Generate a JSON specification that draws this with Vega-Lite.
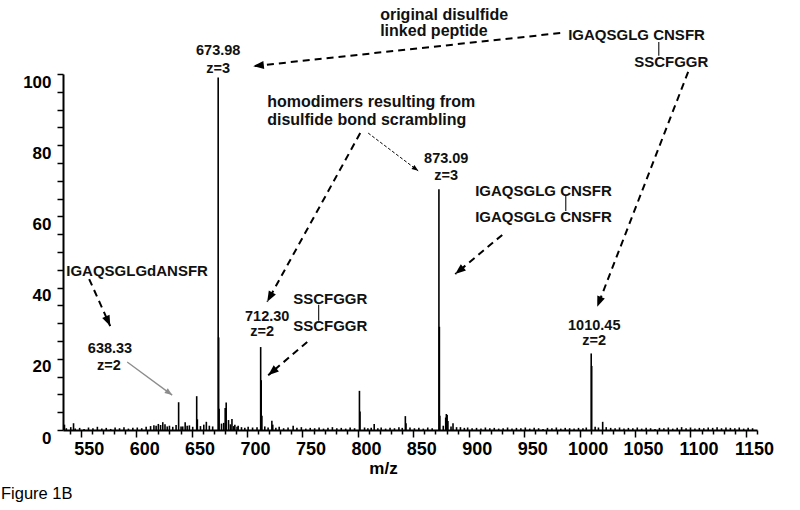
{
  "$schema": "https://vega.github.io/schema/vega-lite/v6.json",
  "width": 694,
  "height": 356,
  "autosize": {"type": "none"},
  "padding": {"left": 63, "top": 74, "right": 43, "bottom": 80},
  "background": "white",
  "config": {"view": {"stroke": null}, "font": "Liberation Sans", "axis": {"labelOverlap": false}},
  "title": {"text": "Figure 1B", "orient": "bottom", "anchor": "start", "frame": "group", "dx": -62, "offset": 10, "fontSize": 16.5, "fontWeight": "normal", "font": "Liberation Sans", "color": "black"},
  "datasets": {
    "spectrum": [
      {"mz": 535.3, "intensity": 1.5}, {"mz": 543.5, "intensity": 1.9},
      {"mz": 618, "intensity": 1.2}, {"mz": 620, "intensity": 1.7}, {"mz": 622, "intensity": 1.4}, {"mz": 624, "intensity": 2.2}, {"mz": 626, "intensity": 1.6}, {"mz": 628, "intensity": 1.0},
      {"mz": 638.3, "intensity": 7.8}, {"mz": 640.5, "intensity": 1.0}, {"mz": 644.2, "intensity": 2.2}, {"mz": 646, "intensity": 1.2},
      {"mz": 654.6, "intensity": 9.5}, {"mz": 655.2, "intensity": 3.0}, {"mz": 663.3, "intensity": 2.3},
      {"mz": 673.98, "intensity": 99}, {"mz": 674.4, "intensity": 26}, {"mz": 674.8, "intensity": 6},
      {"mz": 680.3, "intensity": 6.2}, {"mz": 681.2, "intensity": 7.7}, {"mz": 683.3, "intensity": 2.8}, {"mz": 686.4, "intensity": 3.1}, {"mz": 689, "intensity": 1.5}, {"mz": 692, "intensity": 1.2},
      {"mz": 712.3, "intensity": 23.3}, {"mz": 712.8, "intensity": 14}, {"mz": 713.4, "intensity": 4},
      {"mz": 722.4, "intensity": 2.6}, {"mz": 723.2, "intensity": 1.5}, {"mz": 741.6, "intensity": 1.2},
      {"mz": 801.4, "intensity": 11}, {"mz": 801.9, "intensity": 5.2}, {"mz": 814.7, "intensity": 1.7},
      {"mz": 842.8, "intensity": 3.9}, {"mz": 843.4, "intensity": 1.9},
      {"mz": 873.09, "intensity": 67.6}, {"mz": 873.5, "intensity": 29}, {"mz": 873.9, "intensity": 4},
      {"mz": 879.2, "intensity": 3.5}, {"mz": 879.8, "intensity": 4.5}, {"mz": 880.5, "intensity": 4.2}, {"mz": 881.2, "intensity": 2.5},
      {"mz": 885.8, "intensity": 1.9}, {"mz": 892.5, "intensity": 0.8},
      {"mz": 1010.45, "intensity": 21.5}, {"mz": 1010.9, "intensity": 18}, {"mz": 1020.8, "intensity": 2.3}, {"mz": 1024, "intensity": 0.8},
      {"mz": 537, "intensity": 0.5}, {"mz": 541, "intensity": 0.8}, {"mz": 545, "intensity": 0.4}, {"mz": 549, "intensity": 0.6}, {"mz": 553, "intensity": 0.3}, {"mz": 557, "intensity": 0.7}, {"mz": 561, "intensity": 0.5}, {"mz": 565, "intensity": 0.9}, {"mz": 569, "intensity": 0.4}, {"mz": 573, "intensity": 0.6}, {"mz": 577, "intensity": 0.3}, {"mz": 581, "intensity": 0.7}, {"mz": 585, "intensity": 0.5}, {"mz": 589, "intensity": 0.8}, {"mz": 593, "intensity": 0.4}, {"mz": 597, "intensity": 0.6}, {"mz": 601, "intensity": 0.7}, {"mz": 605, "intensity": 0.5}, {"mz": 609, "intensity": 0.9}, {"mz": 613, "intensity": 1.1}, {"mz": 616, "intensity": 1.3}, {"mz": 630, "intensity": 1.2}, {"mz": 633, "intensity": 0.9}, {"mz": 636, "intensity": 1.4}, {"mz": 642, "intensity": 1.0}, {"mz": 648, "intensity": 1.3}, {"mz": 651, "intensity": 0.9}, {"mz": 658, "intensity": 1.1}, {"mz": 661, "intensity": 1.5}, {"mz": 666, "intensity": 1.2}, {"mz": 669, "intensity": 1.0}, {"mz": 677, "intensity": 1.8}, {"mz": 679, "intensity": 2.0}, {"mz": 685, "intensity": 1.6}, {"mz": 688, "intensity": 1.1}, {"mz": 691, "intensity": 0.9}, {"mz": 695, "intensity": 0.8}, {"mz": 698, "intensity": 0.6}, {"mz": 701, "intensity": 0.9}, {"mz": 705, "intensity": 0.7}, {"mz": 709, "intensity": 0.8}, {"mz": 716, "intensity": 1.0}, {"mz": 719, "intensity": 0.7}, {"mz": 726, "intensity": 0.6}, {"mz": 729, "intensity": 0.9}, {"mz": 733, "intensity": 0.5}, {"mz": 737, "intensity": 0.7}, {"mz": 745, "intensity": 0.6}, {"mz": 749, "intensity": 0.8}, {"mz": 753, "intensity": 0.4}, {"mz": 757, "intensity": 0.6}, {"mz": 761, "intensity": 0.5}, {"mz": 765, "intensity": 0.7}, {"mz": 769, "intensity": 0.4}, {"mz": 773, "intensity": 0.6}, {"mz": 777, "intensity": 0.8}, {"mz": 781, "intensity": 0.5}, {"mz": 785, "intensity": 0.6}, {"mz": 789, "intensity": 0.4}, {"mz": 793, "intensity": 0.7}, {"mz": 797, "intensity": 0.5}, {"mz": 806, "intensity": 0.7}, {"mz": 809, "intensity": 0.5}, {"mz": 812, "intensity": 0.6}, {"mz": 818, "intensity": 0.5}, {"mz": 821, "intensity": 0.7}, {"mz": 825, "intensity": 0.4}, {"mz": 829, "intensity": 0.6}, {"mz": 833, "intensity": 0.5}, {"mz": 837, "intensity": 0.8}, {"mz": 840, "intensity": 0.6}, {"mz": 847, "intensity": 0.7}, {"mz": 851, "intensity": 0.5}, {"mz": 855, "intensity": 0.6}, {"mz": 859, "intensity": 0.4}, {"mz": 863, "intensity": 0.7}, {"mz": 867, "intensity": 0.5}, {"mz": 877, "intensity": 1.2}, {"mz": 884, "intensity": 1.0}, {"mz": 889, "intensity": 0.8}, {"mz": 896, "intensity": 0.6}, {"mz": 899, "intensity": 0.7}, {"mz": 903, "intensity": 0.5}, {"mz": 907, "intensity": 0.6}, {"mz": 911, "intensity": 0.4}, {"mz": 915, "intensity": 0.7}, {"mz": 919, "intensity": 0.5}, {"mz": 923, "intensity": 0.6}, {"mz": 927, "intensity": 0.4}, {"mz": 931, "intensity": 0.5}, {"mz": 935, "intensity": 0.7}, {"mz": 939, "intensity": 0.4}, {"mz": 943, "intensity": 0.6}, {"mz": 947, "intensity": 0.5}, {"mz": 951, "intensity": 0.7}, {"mz": 955, "intensity": 0.4}, {"mz": 959, "intensity": 0.6}, {"mz": 963, "intensity": 0.5}, {"mz": 967, "intensity": 0.3}, {"mz": 971, "intensity": 0.6}, {"mz": 975, "intensity": 0.5}, {"mz": 979, "intensity": 0.7}, {"mz": 983, "intensity": 0.4}, {"mz": 987, "intensity": 0.6}, {"mz": 991, "intensity": 0.5}, {"mz": 995, "intensity": 0.4}, {"mz": 999, "intensity": 0.6}, {"mz": 1003, "intensity": 0.5}, {"mz": 1006, "intensity": 0.7}, {"mz": 1014, "intensity": 0.9}, {"mz": 1017, "intensity": 0.7}, {"mz": 1028, "intensity": 0.6}, {"mz": 1032, "intensity": 0.5}, {"mz": 1036, "intensity": 0.7}, {"mz": 1040, "intensity": 0.4}, {"mz": 1044, "intensity": 0.6}, {"mz": 1048, "intensity": 0.5}, {"mz": 1052, "intensity": 0.7}, {"mz": 1056, "intensity": 0.4}, {"mz": 1060, "intensity": 0.6}, {"mz": 1064, "intensity": 0.5}, {"mz": 1068, "intensity": 0.3}, {"mz": 1072, "intensity": 0.6}, {"mz": 1076, "intensity": 0.5}, {"mz": 1080, "intensity": 0.7}, {"mz": 1084, "intensity": 0.4}, {"mz": 1088, "intensity": 0.6}, {"mz": 1092, "intensity": 0.8}, {"mz": 1096, "intensity": 0.5}, {"mz": 1100, "intensity": 0.7}, {"mz": 1104, "intensity": 0.4}, {"mz": 1108, "intensity": 0.6}, {"mz": 1112, "intensity": 0.5}, {"mz": 1116, "intensity": 0.7}, {"mz": 1120, "intensity": 0.6}, {"mz": 1124, "intensity": 0.8}, {"mz": 1128, "intensity": 0.5}, {"mz": 1132, "intensity": 0.7}, {"mz": 1136, "intensity": 0.6}, {"mz": 1140, "intensity": 0.5}, {"mz": 1144, "intensity": 0.7}, {"mz": 1148, "intensity": 0.4}, {"mz": 1152, "intensity": 0.6}, {"mz": 1156, "intensity": 0.5}
    ],
    "labelsCenter": [
      {"mz": 674.0, "intensity": 106.4, "text": "673.98"},
      {"mz": 674.0, "intensity": 101.5, "text": "z=3"},
      {"mz": 879.7, "intensity": 76.0, "text": "873.09"},
      {"mz": 879.7, "intensity": 71.4, "text": "z=3"},
      {"mz": 718.2, "intensity": 31.7, "text": "712.30"},
      {"mz": 713.7, "intensity": 27.5, "text": "z=2"},
      {"mz": 1013.2, "intensity": 29.1, "text": "1010.45"},
      {"mz": 1013.2, "intensity": 24.9, "text": "z=2"},
      {"mz": 576.4, "intensity": 22.7, "text": "638.33"},
      {"mz": 575.5, "intensity": 18.1, "text": "z=2"}
    ],
    "notes": [
      {"mz": 820.1, "intensity": 116.6, "text": "original disulfide"},
      {"mz": 820.1, "intensity": 112.2, "text": "linked peptide"},
      {"mz": 718.2, "intensity": 92.1, "text": "homodimers resulting from"},
      {"mz": 718.2, "intensity": 87.0, "text": "disulfide bond scrambling"}
    ],
    "peptides": [
      {"mz": 989.7, "intensity": 111.0, "text": "IGAQSGLG CNSFR"},
      {"mz": 1049.2, "intensity": 103.4, "text": "SSCFGGR"},
      {"mz": 905.8, "intensity": 67.1, "text": "IGAQSGLG CNSFR"},
      {"mz": 905.8, "intensity": 59.8, "text": "IGAQSGLG CNSFR"},
      {"mz": 741.6, "intensity": 36.8, "text": "SSCFGGR"},
      {"mz": 741.6, "intensity": 29.2, "text": "SSCFGGR"},
      {"mz": 536.9, "intensity": 44.7, "text": "IGAQSGLGdANSFR"}
    ],
    "links": [
      {"mz": 1071.4, "intensity": 109.0, "intensity2": 105.1},
      {"mz": 987.5, "intensity": 65.7, "intensity2": 61.5},
      {"mz": 764.6, "intensity": 35.2, "intensity2": 30.7}
    ],
    "arrows": [
      {"kind": "dashed", "mz": 982.5, "intensity": 111.5, "mz2": 705.6, "intensity2": 102.2},
      {"kind": "dashed", "mz": 1097.9, "intensity": 100.6, "mz2": 1015.9, "intensity2": 34.6},
      {"kind": "dashed", "mz": 802.1, "intensity": 83.4, "mz2": 718.2, "intensity2": 36.0},
      {"kind": "dotted", "mz": 809.3, "intensity": 83.4, "mz2": 854.4, "intensity2": 72.8},
      {"kind": "dashed", "mz": 930.2, "intensity": 54.8, "mz2": 887.8, "intensity2": 43.8},
      {"kind": "dashed", "mz": 754.3, "intensity": 24.7, "mz2": 719.1, "intensity2": 15.4},
      {"kind": "dashed", "mz": 557.6, "intensity": 42.4, "mz2": 576.6, "intensity2": 29.2},
      {"kind": "gray", "mz": 591.9, "intensity": 19.1, "mz2": 632.5, "intensity2": 9.8}
    ]
  },
  "encoding": {
    "x": {"field": "mz", "type": "quantitative", "title": "m/z",
      "scale": {"domain": [534, 1160], "nice": false, "zero": false},
      "axis": {
        "values": [540,550,560,570,580,590,600,610,620,630,640,650,660,670,680,690,700,710,720,730,740,750,760,770,780,790,800,810,820,830,840,850,860,870,880,890,900,910,920,930,940,950,960,970,980,990,1000,1010,1020,1030,1040,1050,1060,1070,1080,1090,1100,1110,1120,1130,1140,1150,1160],
        "labelExpr": "datum.value % 50 === 0 ? datum.label : ''",
        "format": "d", "labelOverlap": false, "labelFlush": false,
        "labelFont": "Liberation Sans", "labelFontSize": 18, "labelFontWeight": "bold", "labelColor": "black",
        "labelOffset": 8, "labelPadding": 3,
        "tickSize": {"condition": {"test": "datum.value % 50 === 0", "value": 7}, "value": 4},
        "tickColor": "black", "tickWidth": 1.5, "domainColor": "black", "domainWidth": 2, "grid": false,
        "titleFont": "Liberation Sans", "titleFontSize": 17, "titleFontWeight": "bold", "titleColor": "black", "titleX": 320, "titlePadding": 2
      }
    },
    "y": {"field": "intensity", "type": "quantitative", "title": null,
      "scale": {"domain": [0, 100], "nice": false, "zero": true},
      "axis": {
        "values": [0,5,10,15,20,25,30,35,40,45,50,55,60,65,70,75,80,85,90,95,100],
        "labelExpr": "datum.value % 20 === 0 ? datum.label : ''",
        "labelOverlap": false, "labelFlush": false,
        "labelFont": "Liberation Sans", "labelFontSize": 17, "labelFontWeight": "bold", "labelColor": "black",
        "labelOffset": 8, "labelPadding": 6, "tickSize": 6,
        "tickColor": "black", "tickWidth": 1.5, "domainColor": "black", "domainWidth": 2, "grid": false
      }
    }
  },
  "layer": [
    {
      "data": {"name": "spectrum"},
      "mark": {"type": "rule", "strokeWidth": 1.6, "color": "black"},
      "encoding": {"y2": {"datum": 0}}
    },
    {
      "data": {"name": "labelsCenter"},
      "mark": {"type": "text", "font": "Liberation Sans", "fontWeight": "bold", "fontSize": 14.5, "align": "center", "baseline": "middle", "color": "#111"},
      "encoding": {"text": {"field": "text"}}
    },
    {
      "data": {"name": "notes"},
      "mark": {"type": "text", "font": "Liberation Sans", "fontWeight": "bold", "fontSize": 16, "align": "left", "baseline": "middle", "color": "#111"},
      "encoding": {"text": {"field": "text"}}
    },
    {
      "data": {"name": "peptides"},
      "mark": {"type": "text", "font": "Liberation Sans", "fontWeight": "bold", "fontSize": 15, "align": "left", "baseline": "middle", "color": "#111"},
      "encoding": {"text": {"field": "text"}}
    },
    {
      "data": {"name": "links"},
      "mark": {"type": "rule", "strokeWidth": 1.2, "color": "#222"},
      "encoding": {"y2": {"field": "intensity2"}}
    },
    {
      "data": {"name": "arrows"},
      "transform": [{"filter": "datum.kind === 'dashed'"}],
      "mark": {"type": "rule", "strokeWidth": 2, "strokeDash": [7, 5], "color": "black"},
      "encoding": {"x2": {"field": "mz2"}, "y2": {"field": "intensity2"}}
    },
    {
      "data": {"name": "arrows"},
      "transform": [{"filter": "datum.kind === 'dotted'"}],
      "mark": {"type": "rule", "strokeWidth": 1, "strokeDash": [3, 2], "color": "black"},
      "encoding": {"x2": {"field": "mz2"}, "y2": {"field": "intensity2"}}
    },
    {
      "data": {"name": "arrows"},
      "transform": [{"filter": "datum.kind === 'gray'"}],
      "mark": {"type": "rule", "strokeWidth": 1.3, "color": "#8c8c8c"},
      "encoding": {"x2": {"field": "mz2"}, "y2": {"field": "intensity2"}}
    },
    {
      "data": {"name": "arrows"},
      "transform": [
        {"filter": "datum.kind === 'dashed'"},
        {"calculate": "atan2((datum.mz2 - datum.mz) * 1.1086, (datum.intensity2 - datum.intensity) * 3.56) * 180 / PI", "as": "angle"},
        {"calculate": "datum.mz2", "as": "mz"},
        {"calculate": "datum.intensity2", "as": "intensity"}
      ],
      "mark": {"type": "point", "shape": "M0,0L-0.38,1L0.38,1Z", "filled": true, "opacity": 1, "size": 450, "color": "black", "strokeWidth": 0},
      "encoding": {"angle": {"field": "angle", "type": "quantitative", "scale": null}}
    },
    {
      "data": {"name": "arrows"},
      "transform": [
        {"filter": "datum.kind === 'dotted'"},
        {"calculate": "atan2((datum.mz2 - datum.mz) * 1.1086, (datum.intensity2 - datum.intensity) * 3.56) * 180 / PI", "as": "angle"},
        {"calculate": "datum.mz2", "as": "mz"},
        {"calculate": "datum.intensity2", "as": "intensity"}
      ],
      "mark": {"type": "point", "shape": "M0,0L-0.38,1L0.38,1Z", "filled": true, "opacity": 1, "size": 170, "color": "black", "strokeWidth": 0},
      "encoding": {"angle": {"field": "angle", "type": "quantitative", "scale": null}}
    },
    {
      "data": {"name": "arrows"},
      "transform": [
        {"filter": "datum.kind === 'gray'"},
        {"calculate": "atan2((datum.mz2 - datum.mz) * 1.1086, (datum.intensity2 - datum.intensity) * 3.56) * 180 / PI", "as": "angle"},
        {"calculate": "datum.mz2", "as": "mz"},
        {"calculate": "datum.intensity2", "as": "intensity"}
      ],
      "mark": {"type": "point", "shape": "M0,0L-0.38,1L0.38,1Z", "filled": true, "opacity": 1, "size": 230, "color": "#8c8c8c", "strokeWidth": 0},
      "encoding": {"angle": {"field": "angle", "type": "quantitative", "scale": null}}
    }
  ]
}
